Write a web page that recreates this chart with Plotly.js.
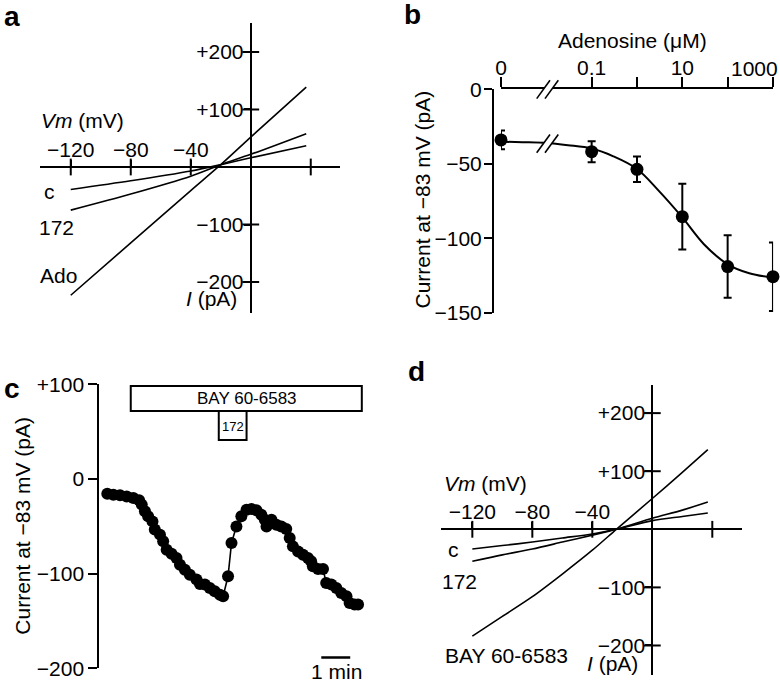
<!DOCTYPE html>
<html>
<head>
<meta charset="utf-8">
<script src="https://cdn.plot.ly/plotly-3.0.1.min.js"></script>
<style>
body { margin: 0; background: white; }
#fig { width: 780px; height: 685px; }
</style>
</head>
<body>
<div id="fig"></div>
<script>
// ---- panel a: I-V ramps (control, 172, adenosine) ----
var vmA = [-120, -80, -40, -20, 0, 37];
var iCtrlA = [-39, -24, -7, 4, 16, 37];
var i172A = [-75, -47, -16, 4, 22, 58];
var iAdoA = [-223, -132, -41, 4, 52, 139];

// ---- panel d: I-V ramps (control, 172, BAY 60-6583) ----
var vmD = [-120, -100, -80, -60, -40, -24, 0, 20, 37];
var iCtrlD = [-34, -28, -22, -15, -8, 0, 15, 22, 28];
var i172D = [-55, -44, -34, -22, -10, 0, 19, 33, 47];
var iBayD = [-184, -150, -116, -77, -36, 0, 53, 98, 137];

// shared tick values for the crossing I-V axes
var vmTicks = [-120, -80, -40, 40];
var vmTickLabels = ["\u2212120", "\u221280", "\u221240"];
var iTicks = [-200, -100, 100, 200];
var iTickLabels = ["\u2212200", "\u2212100", "+100", "+200"];

// ---- panel b: adenosine dose response (0 drawn at 0.001, after the axis break) ----
var adoConc = [0.001, 0.1, 1, 10, 100, 1000];
var adoCurrent = [-34, -41.9, -53.7, -85.5, -119, -125.8];
var adoErr = [6.3, 7, 8.6, 22, 21, 23];
var fitConc = [0.001, 0.003, 0.01, 0.03, 0.1, 0.3, 1, 3, 10, 30, 100, 300, 1000];
var fitCurrent = [-35.2, -35.5, -36, -37.5, -39.8, -45, -53.5, -68, -86, -104, -117.5, -123.5, -126.5];
var concTicks = [0.001, 0.1, 1, 10, 100, 1000];
var concTickLabels = ["0", "0.1", "", "10", "", ""];   // "1000" sits at the figure edge, drawn as a note
var currTicksB = [0, -50, -100, -150];

// ---- panel c: time course at -83 mV (min, pA) ----
var timeC = [0, 0.21, 0.44, 0.67, 0.9, 1.1, 1.19, 1.3, 1.41, 1.56, 1.64, 1.82, 1.93, 2.05, 2.22,
  2.39, 2.51, 2.68, 2.85, 3.08, 3.2, 3.37, 3.54, 3.71, 3.89, 4.0, 4.17, 4.29, 4.46, 4.63,
  4.81, 4.98, 5.15, 5.32, 5.44, 5.5, 5.67, 5.84, 6.01, 6.18, 6.3, 6.41, 6.59, 6.76, 6.93,
  7.04, 7.1, 7.28, 7.45, 7.56, 7.74, 7.91, 8.08, 8.26, 8.37, 8.54, 8.66];
var currentC = [-15.5, -16.6, -17.3, -18.4, -20.1, -22.6, -27.1, -34.2, -39.5, -44.8, -53.5, -58.8, -65.9, -74.7, -78.9,
  -83.4, -90.5, -95.8, -101.1, -106.3, -110.9, -111.6, -115.1, -118.7, -122.2, -123.9, -102.8, -67.6, -50.1, -39.5,
  -32.4, -31.7, -33.1, -37.7, -43, -50.1, -43, -48.3, -50.1, -52.8, -62.3, -71.2, -76.5, -80, -83.4,
  -87, -92.3, -95.1, -95.1, -109.8, -111.6, -115.1, -120.4, -123.9, -130.9, -132.7, -132.7];
var bayApplied = [0.81, 8.79];
var cmpd172Applied = [3.85, 4.81];
var currTicksC = [100, 0, -100, -200];
var currTickLabelsC = ["+100", "0", "\u2212100", "\u2212200"];

// pixel -> paper helpers (figure is 780 x 685, no margins)
function px(x) { return x / 780; }
function py(y) { return 1 - y / 685; }

var blk = "black";
var font = "Liberation Sans, Arial, Helvetica, sans-serif";

function ivLine(xs, ys, xa, ya) {
  return {x: xs, y: ys, xaxis: xa, yaxis: ya, type: "scatter", mode: "lines",
    line: {color: blk, width: 1.6, shape: "spline", smoothing: 0.8}, hoverinfo: "skip"};
}
function tickMarks(xs, ys, sym, xa, ya) {
  return {x: xs, y: ys, xaxis: xa, yaxis: ya, type: "scatter", mode: "markers", cliponaxis: false,
    marker: {symbol: sym, size: 12, line: {color: blk, width: 2}}, hoverinfo: "skip"};
}
var zerosV = vmTicks.map(function () { return 0; });
var zerosI = iTicks.map(function () { return 0; });

var data = [
  ivLine(vmA, iCtrlA, "x", "y"),
  ivLine(vmA, i172A, "x", "y"),
  ivLine(vmA, iAdoA, "x", "y"),
  tickMarks(vmTicks, zerosV, "line-ns", "x", "y"),
  tickMarks(zerosI, iTicks, "line-ew", "x", "y"),

  ivLine(vmD, iCtrlD, "x2", "y2"),
  ivLine(vmD, i172D, "x2", "y2"),
  ivLine(vmD, iBayD, "x2", "y2"),
  tickMarks(vmTicks, zerosV, "line-ns", "x2", "y2"),
  tickMarks(zerosI, iTicks, "line-ew", "x2", "y2"),

  {x: fitConc, y: fitCurrent, xaxis: "x3", yaxis: "y3", type: "scatter", mode: "lines",
    line: {color: blk, width: 2, shape: "spline"}, hoverinfo: "skip"},
  {x: adoConc, y: adoCurrent, xaxis: "x3", yaxis: "y3", type: "scatter", mode: "markers", cliponaxis: false,
    marker: {color: blk, size: 13},
    error_y: {type: "data", array: adoErr, visible: true, color: blk, thickness: 2, width: 4}},

  {x: timeC, y: currentC, xaxis: "x4", yaxis: "y4", type: "scatter", mode: "lines+markers", cliponaxis: false,
    line: {color: blk, width: 1.6}, marker: {color: blk, size: 12}}
];

function ivX(dom, range, zeroY) {
  return {domain: dom, range: range, anchor: "free", position: zeroY, side: "top",
    showline: true, linewidth: 2, linecolor: blk, showgrid: false, zeroline: false,
    ticks: "outside", ticklen: 6, tickwidth: 2, tickcolor: blk, ticklabelstandoff: -5,
    tickvals: vmTicks.slice(0, 3), ticktext: vmTickLabels, tickfont: {size: 21}};
}
function ivY(dom, range, zeroX) {
  return {domain: dom, range: range, anchor: "free", position: zeroX, side: "left",
    showline: true, linewidth: 2, linecolor: blk, showgrid: false, zeroline: false,
    ticks: "outside", ticklen: 6, tickwidth: 2, tickcolor: blk, ticklabelstandoff: -4,
    tickvals: iTicks, ticktext: iTickLabels, tickfont: {size: 21}};
}

// "//" axis break, centred on a pixel position
function breakMark(cx, cy) {
  var p = function (dx, dy) { return px(cx + dx) + "," + py(cy + dy); };
  return [
    {type: "path", xref: "paper", yref: "paper", layer: "above",
      path: "M" + p(-10.8, 9.3) + " L" + p(2.5, -9) + " L" + p(10.8, -9) + " L" + p(-2.5, 9.3) + " Z",
      fillcolor: "white", line: {width: 0}},
    {type: "line", xref: "paper", yref: "paper", layer: "above",
      x0: px(cx - 10.8), y0: py(cy + 9.3), x1: px(cx + 2.5), y1: py(cy - 9), line: {color: blk, width: 1.6}},
    {type: "line", xref: "paper", yref: "paper", layer: "above",
      x0: px(cx - 2.5), y0: py(cy + 9.3), x1: px(cx + 10.8), y1: py(cy - 9), line: {color: blk, width: 1.6}}
  ];
}

var shapes = [].concat(
  breakMark(547.5, 89.3),
  breakMark(547.5, 143.5),
  [
    {type: "rect", xref: "x4", yref: "y4", x0: bayApplied[0], x1: bayApplied[1], y0: 71.8, y1: 98.2,
      line: {color: blk, width: 2}, fillcolor: "white"},
    {type: "rect", xref: "x4", yref: "y4", x0: cmpd172Applied[0], x1: cmpd172Applied[1], y0: 41.2, y1: 71.8,
      line: {color: blk, width: 2}, fillcolor: "white"},
    // 1 min scale bar
    {type: "line", xref: "x4", yref: "y4", x0: 7.39, x1: 8.39, y0: -188.5, y1: -188.5,
      line: {color: blk, width: 2.5}}
  ]
);

function note(text, x, y, size, extra) {
  var a = {text: text, x: px(x), y: py(y), xref: "paper", yref: "paper", showarrow: false,
    xanchor: "center", yanchor: "middle", font: {size: size || 21, color: blk}};
  for (var k in extra || {}) a[k] = extra[k];
  return a;
}

var annotations = [
  note("<b>a</b>", 12.5, 17, 28),
  note("<b>b</b>", 412.5, 15, 28),
  note("<b>c</b>", 12.5, 388, 28),
  note("<b>d</b>", 416, 371, 28),

  note("<i>Vm</i> (mV)", 82.5, 121),
  note("c", 50, 192),
  note("172", 56.7, 227),
  note("Ado", 59, 275),
  note("<i>I</i> (pA)", 211.7, 298),

  note("Adenosine (\u03bcM)", 632.7, 40),
  note("1000", 754, 68.5),
  note("Current at \u221283 mV (pA)", 422.5, 199, 21, {textangle: -90}),

  note("Current at \u221283 mV (pA)", 21.7, 526, 21, {textangle: -90}),
  note("BAY 60-6583", 246.7, 398.5, 17),
  note("172", 232.8, 426.5, 13),
  note("1 min", 336, 671.5),

  note("<i>Vm</i> (mV)", 485, 483),
  note("c", 453, 549),
  note("172", 459.5, 581),
  note("BAY 60-6583", 506, 655),
  note("<i>I</i> (pA)", 612.5, 663)
];

var layout = {
  width: 780, height: 685,
  margin: {l: 0, r: 0, t: 0, b: 0},
  paper_bgcolor: "white", plot_bgcolor: "rgba(0,0,0,0)",
  showlegend: false,
  font: {family: font, size: 21, color: blk},

  xaxis: ivX([px(40), px(340)], [-140.5, 59.5], py(167)),
  yaxis: ivY([py(313), py(23)], [-253.9, 250.4], px(250.7)),

  xaxis2: ivX([px(440.7), px(741.7)], [-141.1, 59.6], py(529.3)),
  yaxis2: ivY([py(675), py(385)], [-250.8, 248.4], px(652.3)),

  xaxis3: {type: "log", domain: [px(501), px(773.1)], range: [-3, 3.003], anchor: "y3", side: "top",
    showline: true, linewidth: 2, linecolor: blk, showgrid: false, zeroline: false,
    ticks: "outside", ticklen: 10, tickwidth: 2, tickcolor: blk, ticklabelstandoff: -6,
    tickvals: concTicks, ticktext: concTickLabels, tickfont: {size: 21}},
  yaxis3: {domain: [py(312.7), py(89.3)], range: [-150, 0], anchor: "free", position: px(493),
    showline: true, linewidth: 2, linecolor: blk, showgrid: false, zeroline: false,
    ticks: "outside", ticklen: 8, tickwidth: 2, tickcolor: blk, ticklabelstandoff: -2,
    tickvals: currTicksB, tickfont: {size: 21}},

  xaxis4: {domain: [px(99.3), px(365)], range: [-0.276, 8.9], anchor: "y4", visible: false},
  yaxis4: {domain: [py(668.3), py(384.3)], range: [-200, 100], anchor: "x4", side: "left",
    showline: true, linewidth: 2, linecolor: blk, showgrid: false, zeroline: false,
    ticks: "outside", ticklen: 9, tickwidth: 2, tickcolor: blk,
    tickvals: currTicksC, ticktext: currTickLabelsC, tickfont: {size: 21}},

  shapes: shapes,
  annotations: annotations
};

Plotly.newPlot("fig", data, layout, {staticPlot: true});
</script>
</body>
</html>
